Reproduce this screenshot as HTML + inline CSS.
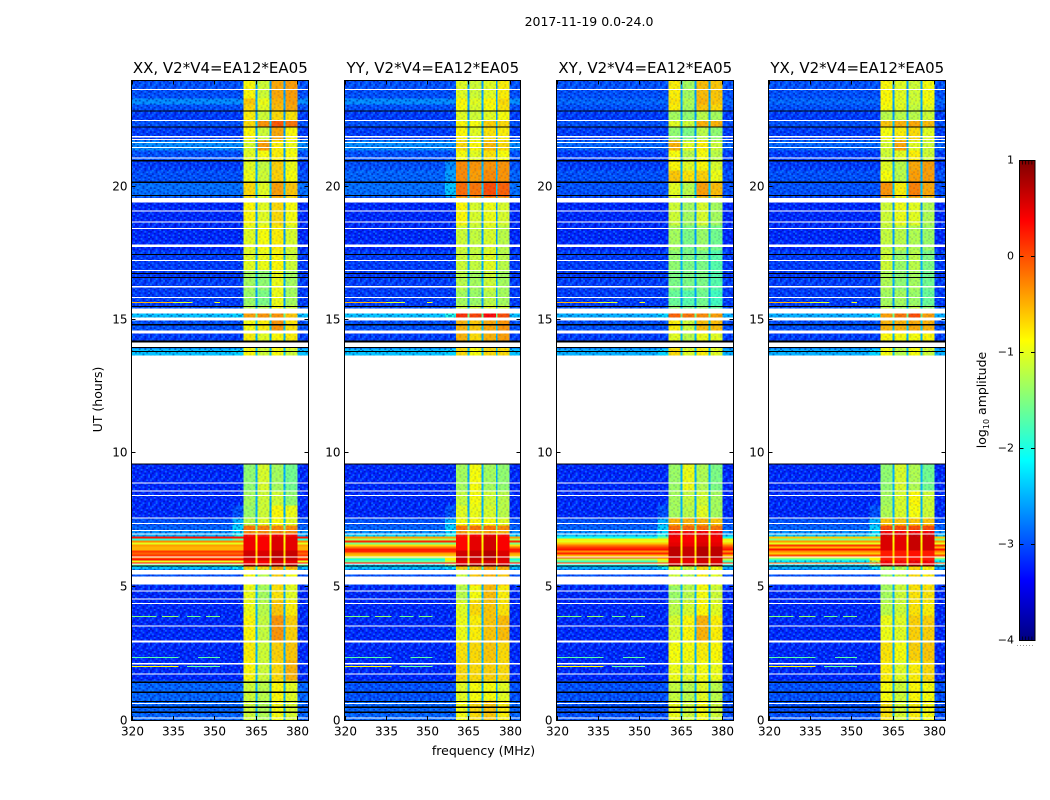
<!DOCTYPE html>
<html lang="en">
<head>
<meta charset="utf-8">
<title>Dynamic spectra 2017-11-19</title>
<style>
html,body{margin:0;padding:0;background:#fff;}
svg{display:block;}
text{font-family:"DejaVu Sans","Liberation Sans",sans-serif;fill:#000;}
</style>
</head>
<body>
<svg id="figure" xmlns="http://www.w3.org/2000/svg" width="1050" height="800" viewBox="0 0 1050 800">
  <defs id="defs"></defs>
  <text x="589" y="26" font-size="12.5" text-anchor="middle">2017-11-19 0.0-24.0</text>
  <text x="483.5" y="755" font-size="12.5" text-anchor="middle">frequency (MHz)</text>
  <text transform="translate(102 399.5) rotate(-90)" font-size="12.5" text-anchor="middle">UT (hours)</text>
  <g id="panels"></g>
  <g id="colorbar"></g>
  <text transform="translate(986 400) rotate(-90)" font-size="12.5" text-anchor="middle">log<tspan font-size="8" dy="3">10</tspan><tspan dy="-3"> amplitude</tspan></text>
</svg>
<script>
// Axis ticks and labels
const freqTicks = [320, 335, 350, 365, 380];
const hourTicks = [0, 5, 10, 15, 20];
const colorTicks = [1, 0, -1, -2, -3, -4];
const panelTitles = ['XX, V2*V4=EA12*EA05', 'YY, V2*V4=EA12*EA05', 'XY, V2*V4=EA12*EA05', 'YX, V2*V4=EA12*EA05'];

// Channel groups across frequency (MHz): left, edge, band1, gap, band2, gap, band3, gap, band4, right
const freqEdges = [320, 356.5, 360.5, 364.8, 365.5, 369.9, 370.6, 375, 375.7, 380, 384];

// Time rows: UT hour edges, top down. The row from 13.69 to 9.64 h has no data.
const hourEdges = [24, 23.33, 23.1, 22.88, 22.5, 22.24, 21.75, 21.38, 21, 20.63, 20.21, 19.61, 18.56, 17.63, 16.88, 16.13, 15.56, 15.26, 15.11, 14.63, 14.21, 13.95, 13.69,
  9.64, 8.63, 8.06, 7.58, 7.31, 7.13, 6.98, 6.9, 6.83, 6.75, 6.68, 6.6, 6.53, 6.45, 6.38, 6.3, 6.23, 6.15, 6.08, 6, 5.93, 5.85, 5.78, 5.66, 5.06, 4.5, 3.94, 3, 2.25, 1.5, 0.75, 0];

// log10 amplitude of the low-frequency background, one value per time row
const leftXX = [-3.0,-2.7,-3.0,-3.1,-3.0,-3.1,-2.7,-3.0,-3.1,-3.0,-2.85,-3.2,-3.2,-3.1,-3.1,-3.1,-3.0,-2.4,-3.0,-3.1,-3.0,-2.4,null,-3.2,-3.2,-3.2,-3.0,-2.9,-2.7,-2.5,0.3,-1.9,-0.3,-1.0,-0.4,-0.5,-0.5,0.1,-0.1,0.1,-0.2,0.3,-1.0,0.3,-1.6,-2.4,-3.0,-3.2,-3.2,-3.2,-3.2,-3.2,-2.9,-2.9];
const leftYY = [-3.0,-2.7,-3.0,-3.1,-3.0,-3.1,-2.7,-3.0,-3.0,-2.9,-2.85,-3.2,-3.2,-3.1,-3.1,-3.1,-3.0,-2.4,-3.0,-3.1,-3.0,-2.4,null,-3.2,-3.2,-3.2,-3.0,-2.9,-2.7,-2.3,-0.4,-1.3,0.2,-1.5,-0.7,-0.2,0.25,0.2,-0.4,-0.6,-1.2,-2.0,-1.6,0.35,-2.2,-2.4,-3.0,-3.2,-3.2,-3.2,-3.2,-3.2,-3.0,-2.9];
const leftXY = [-3.0,-2.9,-3.0,-3.1,-3.0,-3.1,-2.9,-3.1,-3.1,-3.0,-3.0,-3.2,-3.2,-3.1,-3.1,-3.1,-3.0,-2.5,-3.0,-3.1,-3.0,-2.5,null,-3.2,-3.2,-3.2,-3.0,-2.9,-2.7,-2.4,-2.0,-0.8,-1.0,-0.6,-0.2,0.1,0.3,-0.3,0.2,-0.5,0,-1.2,-1.8,0.1,-2.0,-2.5,-3.0,-3.2,-3.2,-3.2,-3.2,-3.2,-3.0,-3.0];
const leftYX = [-3.0,-2.9,-3.0,-3.1,-3.0,-3.1,-2.9,-3.1,-3.1,-3.0,-3.0,-3.2,-3.2,-3.1,-3.1,-3.1,-3.0,-2.5,-3.0,-3.1,-3.0,-2.5,null,-3.2,-3.2,-3.2,-3.0,-2.9,-2.7,-2.4,-0.6,-1.5,-0.4,-1.0,0.1,-0.5,0.3,-0.3,-0.6,0,-1.0,-1.8,-2.2,-0.1,-2.2,-2.5,-3.0,-3.2,-3.2,-3.2,-3.2,-3.2,-3.0,-3.0];

// Lowest level in the channels just below the band, per time row
const edgeFloor = [-3.5,-3.5,-3.5,-3.5,-3.5,-3.5,-3.5,-3.5,-3.5,-3.5,-3.5,-3.5,-3.5,-3.5,-3.5,-3.5,-3.5,-2.3,-3.5,-3.5,-3.5,-2.3,null,-3.5,-3.5,-3.0,-2.5,-2.3,-2.3,-2.0,-1.6,-1.6,-1.5,-1.5,-1.4,-1.3,-1.0,-0.8,-0.8,-0.8,-0.8,-0.8,-1.2,-0.8,-1.4,-2.2,-3.5,-3.5,-3.5,-3.5,-3.5,-3.5,-3.5,-3.5];
const edgeFloorYY = [-3.5,-3.5,-3.5,-3.5,-3.5,-3.5,-3.5,-3.5,-2.7,-2.6,-2.4,-3.5,-3.5,-3.5,-3.5,-3.5,-3.5,-2.0,-3.5,-3.5,-3.5,-2.3,null,-3.5,-3.5,-3.0,-2.5,-2.3,-2.3,-2.0,-1.6,-1.6,-1.5,-1.5,-1.4,-1.3,-1.0,-0.8,-0.8,-0.8,-0.8,-0.8,-1.2,-0.8,-1.4,-2.2,-3.5,-3.5,-3.5,-3.5,-3.5,-3.5,-3.5,-3.5];

// Level inside the narrow gaps between the bands, per time row
const gapLevels = [-2.6,-2.5,-2.6,-2.6,-2.4,-2.6,-2.5,-2.6,-2.5,-2.5,-2.4,-2.6,-2.6,-2.5,-2.5,-2.6,-2.5,-1.6,-2.4,-2.5,-2.5,-2.4,null,-2.5,-2.5,-2.5,-2.4,-1.6,-1.0,-0.9,-0.9,-0.9,-0.9,-0.8,-0.8,-0.8,-0.8,-0.7,-0.7,-0.7,-0.7,-0.7,-0.9,-0.8,-1.0,-2.0,-2.5,-2.5,-2.5,-2.5,-2.5,-2.5,-2.5,-2.5];

// Band levels per time row: one array per band block, per polarisation
const xxBand1 = [-.85,-.6,-.7,-.8,-.7,-.85,-1.05,-1.0,-1.0,-.95,-.7,-.85,-1.0,-1.0,-1.3,-1.35,-1.2,-.4,-.9,-.8,-.9,-.85,null,-1.4,-1.3,-1.35,-1.2,-.2,-.3,.3,.45,.45,.45,.45,.45,.45,.45,.6,.6,.6,.6,.6,.45,.45,.45,-.6,-.9,-.95,-.95,-.85,-.8,-.85,-1.1,-1.1];
const xxBand2 = [-1.1,-.95,-1.0,-1.1,-.35,-1.1,-.4,-.9,-1.15,-1.1,-1.0,-1.0,-.9,-.95,-1.4,-1.5,-1.2,-.35,-.8,-1.0,-1.1,-1.1,null,-1.05,-1.1,-1.1,-1.0,-.25,-.3,.25,.4,.4,.4,.4,.4,.4,.4,.55,.55,.55,.55,.55,.4,.4,.4,-.7,-1.2,-1.3,-1.2,-1.15,-1.1,-1.1,-1.2,-1.25];
const xxBand3 = [-.45,-.5,-.55,-.7,-.05,-.45,-.8,-.8,-.65,-.65,-.4,-.7,-.8,-.85,-.95,-.95,-.9,-.35,-.35,-.85,-.85,-.9,null,-1.3,-1.1,-.85,-.9,-.3,-.3,.4,.55,.55,.55,.55,.55,.55,.55,.7,.7,.7,.7,.7,.55,.55,.55,-.4,-.65,-.75,-.6,-.35,-.65,-.7,-.85,-.9];
const xxBand4 = [-.4,-.4,-.45,-.75,-.2,-.85,-.95,-.9,-.95,-.9,-.6,-.9,-1.05,-1.1,-1.3,-1.3,-1.1,-.6,-.75,-.8,-.9,-1.1,null,-1.55,-1.4,-.95,-1.0,-.3,-.3,.35,.5,.5,.5,.5,.5,.5,.5,.65,.65,.65,.65,.65,.5,.5,.5,-.5,-.9,-1.0,-.8,-.65,-.6,-.5,-1.0,-1.05];

const yyBand1 = [-1.0,-.85,-.9,-1.0,-.85,-.85,-.7,-.9,-.3,-.3,-.15,-.85,-1.1,-1.1,-1.2,-1.3,-1.1,.15,-.5,-.5,-.7,-.7,null,-1.3,-1.15,-1.0,-.9,-.2,-.4,.25,.35,.35,.35,.35,.35,.35,.35,.6,.6,.6,.6,.6,.5,.5,.5,-.6,-1.1,-1.2,-1.0,-.95,-.75,-.7,-1.0,-.9];
const yyBand2 = [-1.1,-1.0,-1.05,-1.1,-.9,-1.0,-.85,-1.0,-.35,-.4,-.2,-1.05,-1.15,-1.15,-1.3,-1.35,-1.1,.05,-.6,-.7,-.9,-.9,null,-.9,-.9,-.95,-.85,-.2,-.5,.35,.5,.5,.5,.5,.5,.5,.5,.65,.65,.65,.65,.65,.55,.55,.55,-.6,-.6,-.9,-.7,-.8,-.7,-.7,-.9,-.7];
const yyBand3 = [-1.0,-.85,-.9,-1.0,-.65,-.75,-.55,-.75,-.35,-.3,0,-.95,-1.05,-1.0,-1.1,-1.2,-1.0,.35,-.45,-.5,-.7,-.7,null,-1.3,-1.1,-1.05,-.9,-.2,-.4,.45,.6,.6,.6,.6,.6,.6,.6,.75,.75,.75,.75,.75,.6,.6,.6,-.4,-.5,-.55,-.6,-.6,-.6,-.65,-.9,-.6];
const yyBand4 = [-.8,-.7,-.75,-.9,-.7,-.8,-.7,-.9,-.35,-.35,-.1,-1.05,-1.2,-1.2,-1.3,-1.3,-1.1,0,-.35,-.4,-.8,-.7,null,-1.4,-1.2,-1.2,-1.0,-.3,-.5,.3,.4,.4,.4,.4,.4,.4,.4,.55,.55,.55,.55,.55,.5,.5,.5,-.5,-.6,-.8,-.75,-.55,-.7,-.7,-1.0,-.8];

const xyBand1 = [-.8,-.75,-.8,-1.3,-1.0,-1.4,-.5,-.9,-.85,-.6,-1.0,-1.1,-1.3,-1.4,-1.5,-1.6,-1.4,-.1,-.8,-1.0,-1.0,-.7,null,-1.35,-1.3,-1.3,-.5,-.15,.35,.45,.45,.45,.45,.5,.5,.7,.7,.7,.7,.7,.7,.55,.55,.55,.55,-1.0,-1.1,-1.35,-1.2,-1.05,-.9,-.95,-1.15,-.95];
const xyBand2 = [-1.3,-1.25,-1.3,-1.4,-1.1,-1.5,-1.0,-1.2,-1.0,-.75,-1.2,-1.3,-1.5,-1.5,-1.5,-1.7,-1.5,-.2,-1.1,-1.2,-1.2,-1.0,null,-.95,-1.15,-1.2,-.5,-.15,.3,.4,.4,.4,.4,.45,.45,.65,.65,.65,.65,.65,.65,.5,.5,.5,.5,-1.1,-1.2,-1.2,-1.05,-.85,-.9,-1.0,-1.2,-1.1];
const xyBand3 = [-.55,-.5,-.6,-1.2,-.5,-1.2,-.8,-.9,-.85,-.65,-.4,-1.05,-1.35,-1.5,-1.5,-1.55,-1.4,-.3,-.55,-.95,-.95,-.8,null,-1.25,-1.1,-1.0,-.5,-.15,.35,.5,.5,.5,.5,.55,.55,.75,.75,.75,.75,.75,.75,.6,.6,.6,.6,-.7,-.8,-.9,-.85,-.5,-.8,-.9,-1.0,-.9];
const xyBand4 = [-.6,-.6,-.7,-1.3,-.5,-1.4,-1.1,-1.2,-1.05,-.95,-.55,-1.3,-1.55,-1.7,-1.7,-1.8,-1.6,-.4,-.55,-1.0,-1.05,-1.0,null,-1.5,-1.3,-1.3,-.6,-.2,.35,.45,.45,.45,.45,.5,.5,.7,.7,.7,.7,.7,.7,.55,.55,.55,.55,-.9,-1.0,-1.1,-1.0,-.8,-.85,-.95,-1.2,-1.1];

const yxBand1 = [-.85,-.85,-.9,-1.2,-.6,-.9,-1.05,-1.1,-1.0,-.9,-.35,-1.1,-1.15,-1.1,-1.25,-1.3,-1.2,-.4,-.5,-.85,-.95,-.9,null,-1.4,-1.3,-1.25,-.6,0,.35,.55,.55,.55,.55,.55,.55,.55,.55,.25,.25,.25,.25,.25,.4,.4,.4,-1.3,-1.3,-1.3,-1.2,-.95,-.75,-.8,-.9,-.75];
const yxBand2 = [-1.0,-1.0,-1.0,-1.2,-.5,-.8,-.45,-1.0,-1.2,-1.2,-.8,-.95,-1.2,-1.35,-1.4,-1.3,-1.3,-.2,-.5,-.9,-1.1,-1.2,null,-1.05,-1.05,-1.05,-.6,0,.35,.5,.5,.5,.5,.5,.5,.5,.5,.25,.25,.25,.25,.25,.35,.35,.35,-1.2,-1.15,-1.1,-1.1,-1.0,-.9,-1.0,-1.1,-1.05];
const yxBand3 = [-1.1,-1.1,-1.15,-1.2,-.45,-.7,-1.0,-.8,-.45,-.4,-.25,-1.0,-1.25,-1.2,-1.3,-1.35,-1.2,0,-.45,-.9,-.95,-.9,null,-1.25,-.85,-.9,-.6,0,.35,.65,.65,.65,.65,.65,.65,.65,.65,.3,.3,.3,.3,.3,.45,.45,.45,-.7,-.7,-.75,-.75,-.65,-.65,-.8,-.85,-.8];
const yxBand4 = [-.9,-.9,-1.0,-1.1,-.55,-1.0,-1.1,-1.1,-.4,-.4,-.45,-1.25,-1.35,-1.5,-1.55,-1.6,-1.4,-.4,-.5,-.85,-1.0,-1.1,null,-1.55,-1.1,-1.1,-.6,0,.35,.6,.6,.6,.6,.6,.6,.6,.6,.25,.25,.25,.25,.25,.4,.4,.4,-.85,-.8,-.75,-.8,-.65,-.6,-.7,-.9,-.9];

// Brief interference streaks: UT hour, start and end MHz, level (parallel arrays)
const rfiHours = [15.68, 15.68, 15.68, 3.9, 3.9, 3.9, 3.9, 2.36, 2.36, 2.03, 2.03];
const rfiStart = [320, 335, 350, 320, 331, 340, 347, 320, 344, 320, 340];
const rfiEnd = [335, 342, 352, 329, 337, 345, 352, 337, 352, 337, 352];
const rfiLevels = [-.5, -1.0, -.9, -1.5, -1.4, -1.6, -1.5, -1.7, -1.7, -.9, -1.6];

// Flagged time ranges, top-hour then bottom-hour
const whiteFlags = [[23.68,23.64],[22.52,22.48],[21.91,21.87],[21.81,21.77],[21.69,21.66],[21.50,21.46],[21.12,21.08],[19.59,19.43],[19.13,19.09],[18.71,18.68],[18.47,18.43],[17.85,17.76],[17.27,17.23],[16.89,16.86],[16.29,16.24],[15.88,15.84],[15.45,15.27],[15.11,15.00],[14.63,14.52],[14.18,14.00],
  [8.93,8.90],[8.63,8.60],[8.46,8.42],[7.61,7.58],[7.40,7.36],[7.14,7.11],[7.01,6.98],[6.15,6.11],[5.89,5.85],[5.64,5.48],[5.40,5.10],[4.88,4.85],[4.58,4.55],[4.40,4.36],[3.57,3.53],[3.00,2.93],[2.15,2.10],[1.77,1.73],[0.65,0.61],[0.12,0.08]];
const blackFlags = [[22.88,22.84],[22.27,22.23],[21.01,20.97],[20.21,20.16],[19.70,19.66],[17.49,17.46],[16.79,16.76],[16.64,16.61],[15.54,15.51],[14.86,14.82],[14.25,14.18],[14.00,13.96],[13.86,13.82],[9.64,9.60],[5.81,5.78],[1.46,1.41],[1.08,1.04],[0.74,0.71],[0.53,0.47],[0.34,0.29]];

// Decorative noise texture over the quiet channels (not data): d = darker, l = lighter
const speckleTile = [
  'd.l..d.ld..l.d.l',
  '.l.d..l..dl..d..',
  'l..dl..d.l..d.l.',
  '.d...ld..d.l..d.',
  'd.l.d..l...d.l.d',
  '..d..l.dl.d..d.l',
  '.l..d...d.l.l..d',
  'd..l.d.l..d..d.l',
  '.d.l..d.l..l...d',
  'l..d.l..d.d.l.d.',
  '.l...d.l..l.d..l',
  'd.d.l..d.l..d.l.',
  '..l.d.l..d.l..d.',
  'l.d..d..l..d.l.d',
  '.d.l...d.dl..d..',
  'd..l.dl...d.l..l'
];

const panelLefts = [131, 344, 556, 768];
const panelRights = [308, 520, 733, 945];
const plotTop = 80.5, plotHeight = 640;
const NS = 'http://www.w3.org/2000/svg';

const panelSeries = [
  {left: leftXX, edge: edgeFloor, bands: [xxBand1, xxBand2, xxBand3, xxBand4]},
  {left: leftYY, edge: edgeFloorYY, bands: [yyBand1, yyBand2, yyBand3, yyBand4]},
  {left: leftXY, edge: edgeFloor, bands: [xyBand1, xyBand2, xyBand3, xyBand4]},
  {left: leftYX, edge: edgeFloor, bands: [yxBand1, yxBand2, yxBand3, yxBand4]}
];

function svgEl(tag, attrs, parent) {
  const el = document.createElementNS(NS, tag);
  for (const k in attrs) el.setAttribute(k, attrs[k]);
  if (parent) parent.appendChild(el);
  return el;
}
function clip01(v) { return Math.max(0, Math.min(1, v)); }
function jet(t) {
  const r = clip01(1.5 - Math.abs(4 * t - 3));
  const g = clip01(1.5 - Math.abs(4 * t - 2));
  const b = clip01(1.5 - Math.abs(4 * t - 1));
  return 'rgb(' + Math.round(r * 255) + ',' + Math.round(g * 255) + ',' + Math.round(b * 255) + ')';
}
function colorOf(level) { return jet(clip01((level + 4) / 5)); }
function xScale(panel, mhz) { return panelLefts[panel] + 0.5 + (mhz - 320) / 64 * (panelRights[panel] - panelLefts[panel]); }
function yScale(hour) { return plotTop + (24 - hour) / 24 * plotHeight; }

// Speckle pattern definition
(function () {
  const defs = document.getElementById('defs');
  const pattern = svgEl('pattern', {id: 'speckle', width: 30, height: 28, patternUnits: 'userSpaceOnUse'}, defs);
  speckleTile.forEach(function (line, r) {
    line.split('').forEach(function (ch, c) {
      if (ch === '.') return;
      svgEl('rect', {
        x: c * 1.875, y: r * 1.75, width: 1.875, height: 1.75,
        fill: ch === 'd' ? 'rgba(0,0,130,0.42)' : 'rgba(20,170,255,0.45)'
      }, pattern);
    });
  });
})();

function drawPanel(p) {
  const root = document.getElementById('panels');
  const series = panelSeries[p];
  const g = svgEl('g', {}, root);
  
  
  const x0 = xScale(p, 320), x1 = xScale(p, 384);

  const heat = svgEl('g', {'shape-rendering': 'crispEdges'}, g);
  
  

  for (let r = 0; r < hourEdges.length - 1; r++) {
    const left = series.left[r];
    if (left === null) continue;
    const yt = yScale(hourEdges[r]), yb = yScale(hourEdges[r + 1]);
    const levels = [
      left,
      Math.max(left, series.edge[r]),
      series.bands[0][r], gapLevels[r],
      series.bands[1][r], gapLevels[r],
      series.bands[2][r], gapLevels[r],
      series.bands[3][r],
      left
    ];
    for (let c = 0; c < levels.length; c++) {
      const xa = xScale(p, freqEdges[c]), xb = xScale(p, freqEdges[c + 1]);
      const cell = svgEl('rect', {x: xa, y: yt, width: xb - xa, height: yb - yt, fill: colorOf(levels[c])}, heat);
      
      
    }
    if (left < -2) {
      [[320, 360.5, 1], [360.5, 380, 0.3], [380, 384, 1]].forEach(function (span) {
        const xa = xScale(p, span[0]), xb = xScale(p, span[1]);
        svgEl('rect', {x: xa, y: yt, width: xb - xa, height: yb - yt, fill: 'url(#speckle)', 'fill-opacity': span[2]}, heat);
      });
    }
  }

  rfiHours.forEach(function (h, i) {
    const streak = svgEl('rect', {
      x: xScale(p, rfiStart[i]), y: yScale(h) - 0.5,
      width: xScale(p, rfiEnd[i]) - xScale(p, rfiStart[i]), height: 1,
      fill: colorOf(rfiLevels[i])
    }, heat);
    
    
  });

  whiteFlags.forEach(function (f) {
    const bar = svgEl('rect', {x: x0, y: yScale(f[0]), width: x1 - x0, height: Math.max(1, yScale(f[1]) - yScale(f[0])), fill: '#fff'}, heat);
    
    
  });
  blackFlags.forEach(function (f) {
    const bar = svgEl('rect', {x: x0, y: yScale(f[0]), width: x1 - x0, height: Math.max(1, yScale(f[1]) - yScale(f[0])), fill: '#000'}, heat);
    
    
  });

  // Frame
  const frame = svgEl('rect', {x: x0, y: 80.5, width: x1 - x0, height: 640, fill: 'none', stroke: '#000', 'stroke-width': 1}, g);
  
  

  // X ticks
  freqTicks.forEach(function (t) {
    const x = Math.round(xScale(p, t)) + 0.5;
    svgEl('path', {d: 'M' + x + ' 720V716M' + x + ' 80.5V84.5', stroke: '#000', 'stroke-width': 1, fill: 'none'}, g);
    const label = svgEl('text', {x: x, y: 735.5, 'font-size': 12, 'text-anchor': 'middle'}, g);
    label.textContent = t;
    
    
  });

  // Y ticks
  hourTicks.forEach(function (t) {
    const y = t === 0 ? 720.5 : Math.floor(yScale(t)) - 0.5;
    svgEl('path', {d: 'M' + x0 + ' ' + y + 'h4M' + x1 + ' ' + y + 'h-4', stroke: '#000', 'stroke-width': 1, fill: 'none'}, g);
    const label = svgEl('text', {x: x0 - 4, y: y + 4, 'font-size': 12, 'text-anchor': 'end'}, g);
    label.textContent = t;
    
    
  });

  const title = svgEl('text', {x: (x0 + x1) / 2 + 0.3, y: 73, 'font-size': 15, 'text-anchor': 'middle'}, g);
  title.textContent = panelTitles[p];
  
  
}

function drawColorbar() {
  const g = document.getElementById('colorbar');
  const defs = document.getElementById('defs');
  const x = 1019.5, w = 15.5, top = 160.5, h = 480;
  const grad = svgEl('linearGradient', {id: 'jet-gradient', x1: 0, y1: 1, x2: 0, y2: 0}, defs);
  for (let i = 0; i <= 16; i++) {
    svgEl('stop', {offset: i / 16, 'stop-color': jet(i / 16)}, grad);
  }
  const bar = svgEl('rect', {x: x, y: top, width: w, height: h, fill: 'url(#jet-gradient)', stroke: '#000', 'stroke-width': 1}, g);
  
  

  colorTicks.forEach(function (t) {
    const y = top + (1 - t) / 5 * h;
    svgEl('path', {d: 'M' + x + ' ' + y + 'h4M' + (x + w) + ' ' + y + 'h-4', stroke: '#000', 'stroke-width': 1, fill: 'none'}, g);
    const label = svgEl('text', {x: 1014, y: y + 3, 'font-size': 11, 'text-anchor': 'end'}, g);
    label.textContent = t < 0 ? '\u2212' + Math.abs(t) : String(t);
    
    
  });
  for (let i = 1; i < 5; i++) {
    const mx = x + i * w / 5;
    svgEl('path', {d: 'M' + mx + ' ' + top + 'v4M' + mx + ' ' + (top + h) + 'v-4', stroke: '#000', 'stroke-width': 0.7, fill: 'none'}, g);
  }
  svgEl('path', {d: 'M1017 645.5H1034', stroke: '#999', 'stroke-width': 1, 'stroke-dasharray': '1 2', fill: 'none'}, g);
}

panelSeries.forEach(function (_, p) { drawPanel(p); });
drawColorbar();
</script>
</body>
</html>
